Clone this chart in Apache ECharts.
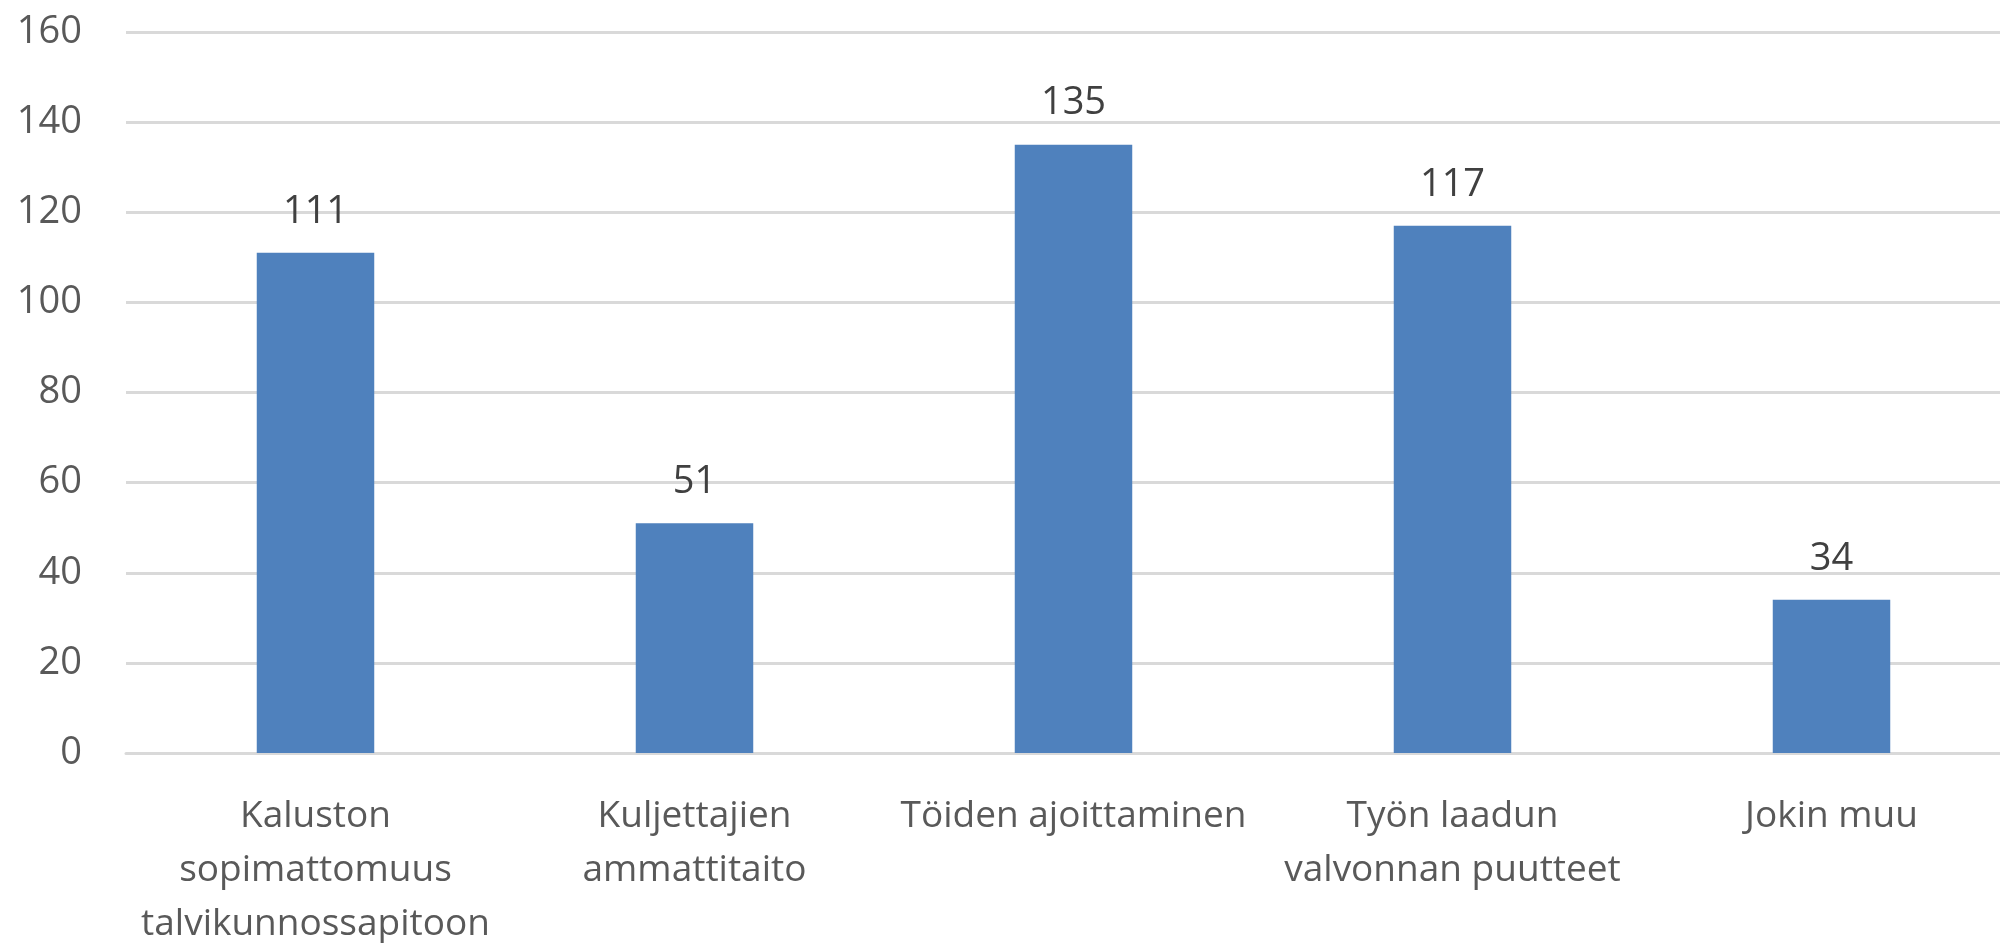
<!DOCTYPE html>
<html>
<head>
<meta charset="utf-8">
<script src="https://cdn.jsdelivr.net/npm/echarts@6/dist/echarts.min.js"></script>
<style>
  html, body { margin: 0; padding: 0; background: #fff; }
  #chart { width: 2000px; height: 943px; }
</style>
</head>
<body>
<div id="chart"></div>
<script>
// 分类与数值
const categories = [
  'Kaluston\nsopimattomuus\ntalvikunnossapitoon',
  'Kuljettajien\nammattitaito',
  'Töiden ajoittaminen',
  'Työn laadun\nvalvonnan puutteet',
  'Jokin muu'
];
const values = [111, 51, 135, 117, 34];
const yTicks = [0, 20, 40, 60, 80, 100, 120, 140, 160];

const textColor = '#595959';
const gridColor = '#D9D9D9';
const fontFamily = '"Open Sans", sans-serif';

const myChart = echarts.init(document.getElementById('chart'));

const option = {
  animation: false,
  grid: {
    left: 126,
    top: 32,
    width: 1895,
    bottom: 190,
    containLabel: false,
    outerBoundsMode: 'none'
  },
  xAxis: {
    type: 'category',
    data: categories,
    axisLine: { lineStyle: { color: gridColor, width: 3 } },
    axisTick: { show: false },
    axisLabel: {
      color: textColor,
      fontFamily: fontFamily,
      fontSize: 37,
      lineHeight: 54,
      margin: 36,
      interval: 0
    }
  },
  yAxis: {
    type: 'value',
    min: yTicks[0],
    max: yTicks[yTicks.length - 1],
    interval: 20,
    axisLine: { show: false },
    axisTick: { show: false },
    splitLine: { lineStyle: { color: gridColor, width: 3 } },
    axisLabel: {
      color: textColor,
      fontFamily: fontFamily,
      fontSize: 38,
      margin: 44
    }
  },
  series: [
    {
      type: 'bar',
      data: values,
      barWidth: '31%',
      itemStyle: { color: '#4F81BD' },
      label: {
        show: true,
        position: 'top',
        distance: 22,
        color: '#404040',
        fontFamily: fontFamily,
        fontSize: 38
      }
    }
  ]
};

myChart.setOption(option);
</script>
</body>
</html>
